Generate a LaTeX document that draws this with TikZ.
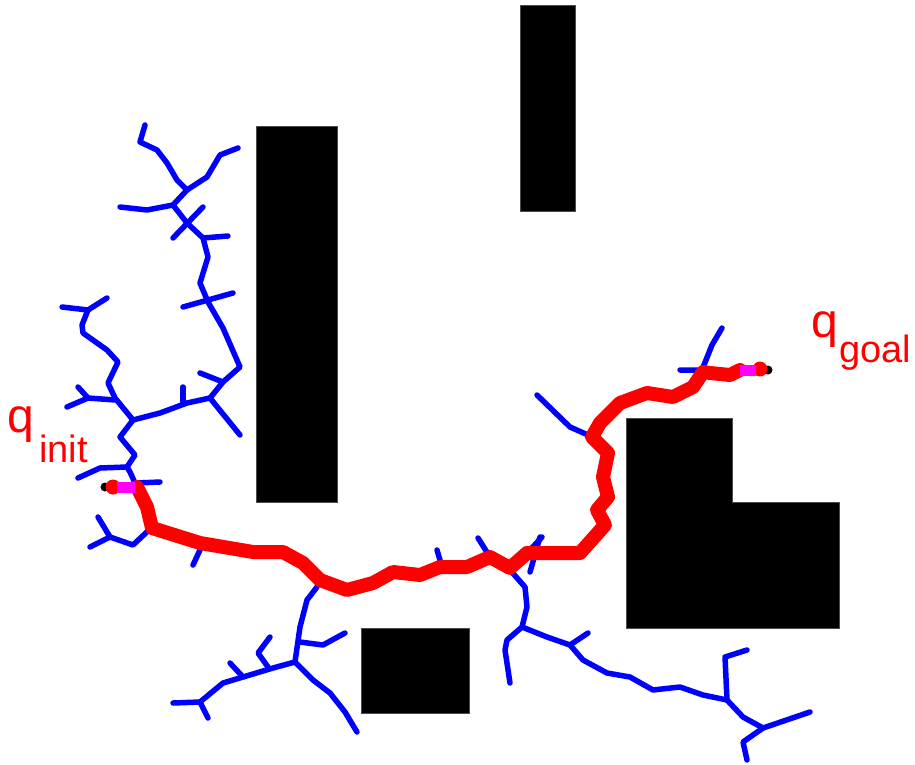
\documentclass[tikz,border=0pt]{standalone}
\usepackage{fontspec}
\setmainfont{Liberation Sans}
\definecolor{pred}{RGB}{255,0,0}
\definecolor{pblue}{RGB}{0,0,255}
\definecolor{pmag}{RGB}{255,0,255}
\begin{document}
\begin{tikzpicture}[x=1pt,y=-1pt,
  obst/.style={fill=black,draw=black!70,line width=0.6pt},
  tree/.style={draw=pblue,line width=5.5pt,line join=round,line cap=round},
  sol/.style={draw=pred,line width=14pt,line join=round,line cap=round},
  ends/.style={draw=pmag,line width=11pt},
  lbl/.style={text=pred,inner sep=0pt,anchor=base west}]
\useasboundingbox (0,0) rectangle (915,765);
% obstacles
\fill[obst] (256,126) rectangle (337,502);
\fill[obst] (520,5) rectangle (575,211);
\fill[obst] (361,628) rectangle (469,713);
\fill[obst] (626,418) -- (732,418) -- (732,502) -- (839,502) -- (839,628) -- (626,628) -- cycle;
% left tree
\draw[tree] (145,125) -- (140,142) -- (157,150) -- (167,163) -- (177,180) -- (187,190) -- (173,205) -- (187,223) -- (203,238) -- (208,257) -- (200,283) -- (208,302) -- (223,328) -- (240,367) -- (223,382) -- (210,398) -- (187,403) -- (160,413) -- (133,420);
\draw[tree] (187,190) -- (207,177) -- (220,155) -- (238,148);
\draw[tree] (173,205) -- (147,210) -- (120,207);
\draw[tree] (173,238) -- (203,207);
\draw[tree] (203,238) -- (228,236);
\draw[tree] (183,307) -- (233,293);
\draw[tree] (200,373) -- (223,382);
\draw[tree] (183,387) -- (183,403);
\draw[tree] (210,398) -- (240,435);
\draw[tree] (133,420) -- (115,398) -- (108,383) -- (118,362) -- (107,350) -- (83,333) -- (82,325) -- (88,310) -- (62,307);
\draw[tree] (88,310) -- (107,298);
\draw[tree] (115,400) -- (88,398) -- (67,407);
\draw[tree] (88,398) -- (78,387);
\draw[tree] (133,420) -- (120,437) -- (135,455) -- (127,467) -- (130,472) -- (135,483);
\draw[tree] (127,467) -- (100,468) -- (78,478);
\draw[tree] (137,483) -- (160,482);
\draw[tree] (149,530) -- (133,545) -- (110,537) -- (90,547);
\draw[tree] (110,537) -- (98,517);
\draw[tree] (200,550) -- (193,565);
% bottom tree 1
\draw[tree] (317,587) -- (307,600) -- (300,627) -- (295,662) -- (313,680) -- (330,693) -- (345,712) -- (357,732);
\draw[tree] (300,642) -- (323,645) -- (345,633);
\draw[tree] (295,662) -- (273,668) -- (243,677) -- (223,683) -- (200,702) -- (173,703);
\draw[tree] (200,702) -- (208,718);
\draw[tree] (268,667) -- (258,653) -- (270,637);
\draw[tree] (243,677) -- (230,663);
% ticks on path
\draw[tree] (437,550) -- (442,567);
\draw[tree] (478,538) -- (490,557);
\draw[tree] (540,537) -- (530,572);
\draw[tree] (530,550) -- (542,537);
% bottom tree 2
\draw[tree] (510,570) -- (525,587) -- (527,607) -- (522,627) -- (507,640) -- (505,650) -- (510,683);
\draw[tree] (522,627) -- (547,637) -- (570,645) -- (588,633);
\draw[tree] (570,645) -- (583,660) -- (607,673) -- (630,677) -- (653,690) -- (680,687) -- (703,695) -- (727,700) -- (725,657) -- (747,650);
\draw[tree] (727,700) -- (743,717) -- (763,728) -- (810,712);
\draw[tree] (763,728) -- (743,742) -- (747,760);
% upper right
\draw[tree] (537,395) -- (570,427) -- (588,435);
\draw[tree] (680,370) -- (702,370) -- (712,345) -- (722,328);
% solution path
\draw[sol] (137,487) -- (147,507) -- (152,528) -- (200,543) -- (253,552) -- (283,552) -- (303,563) -- (320,580) -- (347,590) -- (373,583) -- (393,572) -- (420,575) -- (440,567) -- (467,567) -- (490,557) -- (510,568) -- (527,553) -- (580,553) -- (605,525) -- (597,510) -- (608,497) -- (603,477) -- (608,453) -- (592,437) -- (600,423) -- (620,403) -- (647,393) -- (673,397) -- (693,387) -- (703,372) -- (710,373) -- (730,375) -- (740,370);
% start and goal
\fill[black] (105,487) circle (4.5);
\fill[pred] (113,487) circle (7.5);
\draw[ends] (117,487) -- (135,487);
\fill[black] (768,370) circle (4.5);
\fill[pred] (760,369) circle (7.5);
\draw[ends] (740,370) -- (756,370);
% labels
\node[lbl,font=\fontsize{48}{48}\selectfont] (qi) at (7,432) {q};
\node[lbl,font=\fontsize{38}{38}\selectfont] (qis) at (39,462) {init};
\node[lbl,font=\fontsize{48}{48}\selectfont] (qg) at (811,337) {q};
\node[lbl,font=\fontsize{38}{38}\selectfont] (qgs) at (839,362) {goal};
\end{tikzpicture}
\end{document}
